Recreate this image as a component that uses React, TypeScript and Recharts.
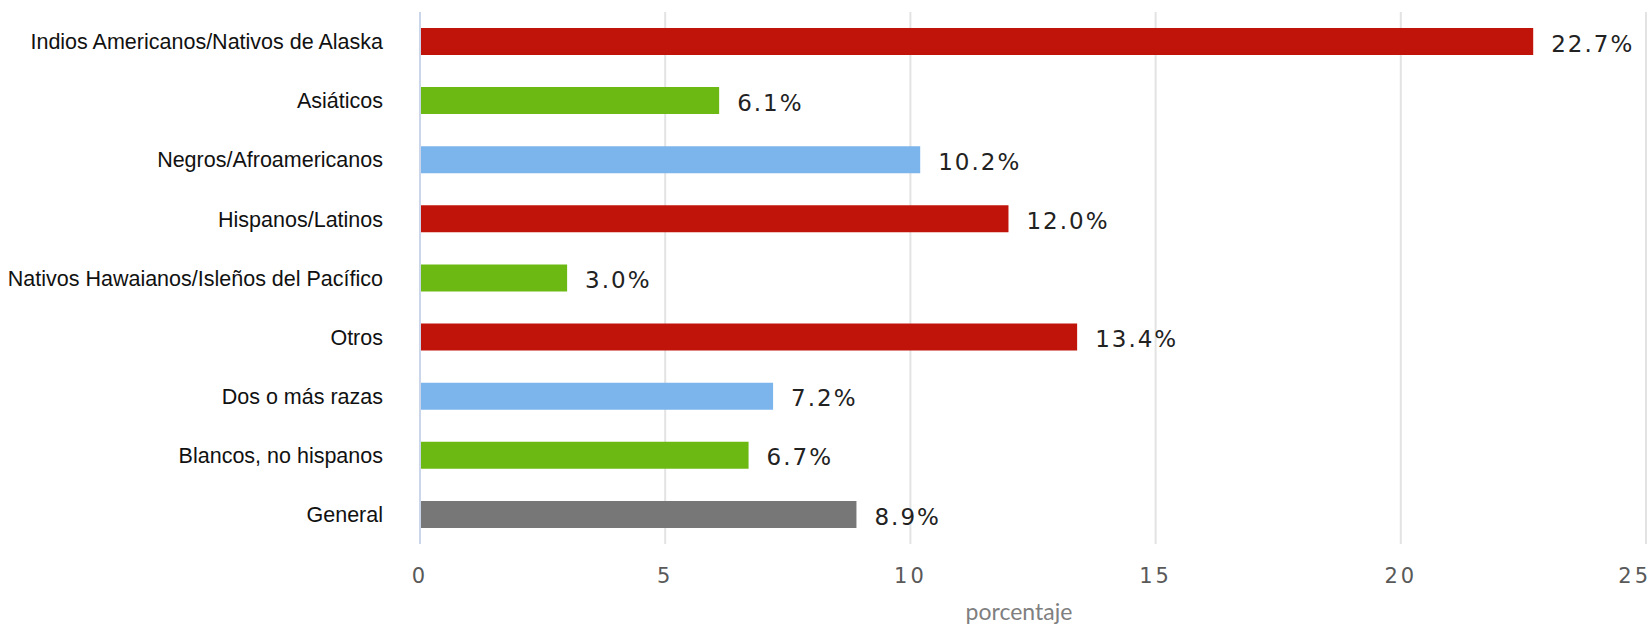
import { BarChart, Bar, XAxis, YAxis, CartesianGrid, Cell, LabelList, Label } from "recharts";

const categories = [
  "Indios Americanos/Nativos de Alaska",
  "Asiáticos",
  "Negros/Afroamericanos",
  "Hispanos/Latinos",
  "Nativos Hawaianos/Isleños del Pacífico",
  "Otros",
  "Dos o más razas",
  "Blancos, no hispanos",
  "General",
];
const values = [22.7, 6.1, 10.2, 12.0, 3.0, 13.4, 7.2, 6.7, 8.9];
const colors = [
  "#c0140a",
  "#6db913",
  "#7cb5ec",
  "#c0140a",
  "#6db913",
  "#c0140a",
  "#7cb5ec",
  "#6db913",
  "#777777",
];
const xTicks = [0, 5, 10, 15, 20, 25];

const data = categories.map((name, i) => ({ name, value: values[i], color: colors[i] }));

export default function App() {
  return (
    <div style={{ position: "absolute", left: 0, top: 0, background: "#fff" }}>
      <BarChart
        width={1651}
        height={626}
        data={data}
        layout="vertical"
        margin={{ top: 12, right: 5, bottom: 0, left: 0 }}
        barSize={27}
      >
        <CartesianGrid horizontal={false} stroke="#e3e3e3" strokeWidth={2} />
        <XAxis
          type="number"
          domain={[0, 25]}
          ticks={xTicks}
          height={82}
          axisLine={false}
          tickLine={false}
          tickSize={0}
          tickMargin={24}
          tick={{ fill: "#595959", fontSize: 21, fontFamily: "DejaVu Sans", letterSpacing: 3 }}
        >
          <Label
            value="porcentaje"
            position="insideBottom"
            offset={6}
            dx={-14}
            style={{ fill: "#7f7f7f", fontSize: 23, fontFamily: "Lato" }}
          />
        </XAxis>
        <YAxis
          type="category"
          dataKey="name"
          width={420}
          axisLine={{ stroke: "#ccd6eb", strokeWidth: 2 }}
          tickLine={false}
          tickSize={0}
          tickMargin={37}
          tick={{ fill: "#111", fontSize: 21.5, fontFamily: "Liberation Sans" }}
        />
        <Bar dataKey="value" isAnimationActive={false}>
          {data.map((entry, index) => (
            <Cell key={`cell-${index}`} fill={entry.color} />
          ))}
          <LabelList
            dataKey="value"
            position="right"
            offset={18}
            formatter={(v: number) => `${v.toFixed(1)}%`}
            style={{ fill: "#222", fontSize: 23, fontFamily: "DejaVu Sans", letterSpacing: 2, transform: "translateY(2px)" }}
          />
        </Bar>
      </BarChart>
    </div>
  );
}
